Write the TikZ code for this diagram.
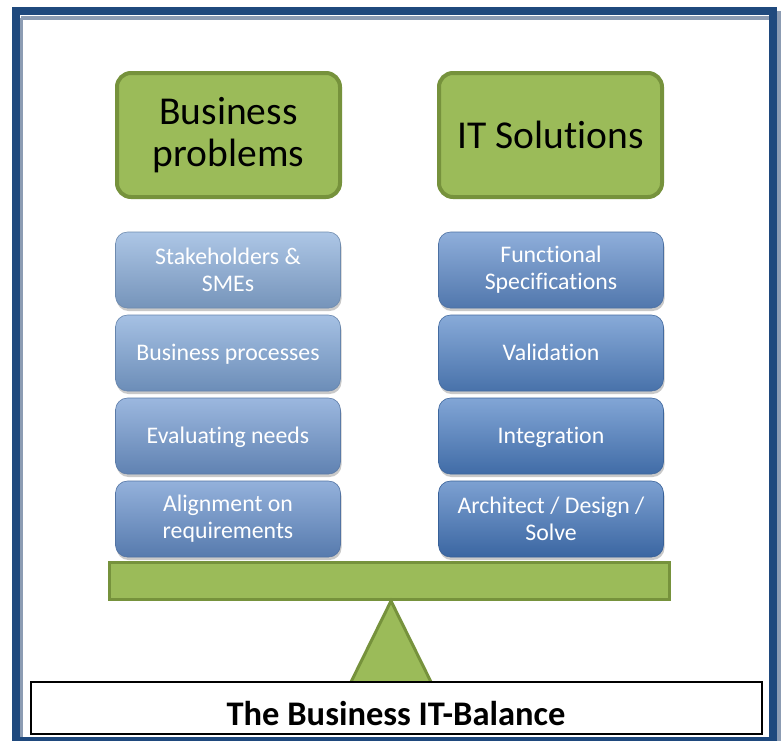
\documentclass[tikz,border=0pt]{standalone}
\usepackage{fontspec}
\setmainfont{Carlito}[Ligatures=NoCommon]
\usetikzlibrary{shadows}
\definecolor{frameblue}{HTML}{1F497D}
\definecolor{frameshadow}{HTML}{8C9CB3}
\definecolor{olive}{HTML}{9BBB59}
\definecolor{olivedark}{HTML}{76923C}
\definecolor{bA}{HTML}{8AAEDB}
\definecolor{bB}{HTML}{7FA6D8}
\definecolor{bC}{HTML}{7199D1}
\definecolor{bD}{HTML}{6690CC}
\definecolor{bE}{HTML}{5F8CCB}
\definecolor{bF}{HTML}{5586C8}
\definecolor{bG}{HTML}{4C7FC4}
\definecolor{bH}{HTML}{4578BE}
\tikzset{
  headbox/.style={draw=olivedark, fill=olive, line width=4pt, rounded corners=14pt,
    minimum width=223pt, minimum height=124pt, align=center, inner sep=0pt,
    font=\fontsize{39.5}{42}\selectfont},
  bluebox/.style={rounded corners=12pt, minimum width=225pt, minimum height=76pt,
    inner sep=0pt, align=center, text=white, font=\fontsize{23.8}{27}\selectfont,
    top color=#1!70!white, middle color=#1, bottom color=#1!85!black,
    draw=#1!80!black, line width=0.6pt,
    drop shadow={shadow xshift=1pt, shadow yshift=-3pt, opacity=0.35, fill=black!60}},
  beambox/.style={draw=olivedark, fill=olive, line width=3pt, minimum width=560pt,
    minimum height=37pt, inner sep=0pt},
  captionbox/.style={draw=black, fill=white, line width=2pt, minimum width=731pt,
    minimum height=52pt, inner sep=0pt},
  captiontext/.style={anchor=base, inner sep=0pt, font=\bfseries\fontsize{34.5}{38}\selectfont}
}
\begin{document}
\begin{tikzpicture}[x=1pt,y=-1pt]
\useasboundingbox (0,0) rectangle (781,740);
\fill[white] (0,0) rectangle (781,740);
% frame with shadow
\draw[frameshadow, line width=8pt] (19.5,15) rectangle (777,746);
\draw[frameblue, line width=8pt] (15.5,11) rectangle (772.5,741);
\fill[white] (19.5,15) rectangle (768.5,737);
\draw[frameshadow, line width=4pt] (21,18) -- (768.5,18);
\draw[frameshadow, line width=3pt] (21,18) -- (21,737);
% header boxes
\node[headbox] (bp) at (228.5,135) {Business\\problems};
\node[headbox] (it) at (550.5,135) {IT Solutions};
% left stack
\node[bluebox=bA] (l1) at (228,270) {Stakeholders \&\\SMEs};
\node[bluebox=bB, text depth=1pt] (l2) at (228,353) {Business processes};
\node[bluebox=bC, text depth=1pt] (l3) at (228,436) {Evaluating needs};
\node[bluebox=bD] (l4) at (228,519) {Alignment on\\requirements};
% right stack
\node[bluebox=bE] (r1) at (551,270) {Functional\\Specifications};
\node[bluebox=bF, text depth=1pt] (r2) at (551,353) {Validation};
\node[bluebox=bG, text depth=1pt] (r3) at (551,436) {Integration};
\node[bluebox=bH] (r4) at (551,519) {Architect / Design /\\Solve};
% beam and fulcrum
\node[beambox] (beam) at (389.5,581) {};
\coordinate (apex) at (391,601);
\coordinate (bl) at (350,684);
\coordinate (br) at (432,684);
\draw[olivedark, fill=olive, line width=3pt, line join=miter] (apex) -- (br) -- (bl) -- cycle;
% caption
\node[captionbox] (cap) at (396,707.5) {};
\node[captiontext] (captxt) at (396,725) {The Business IT-Balance};
\end{tikzpicture}
\end{document}
